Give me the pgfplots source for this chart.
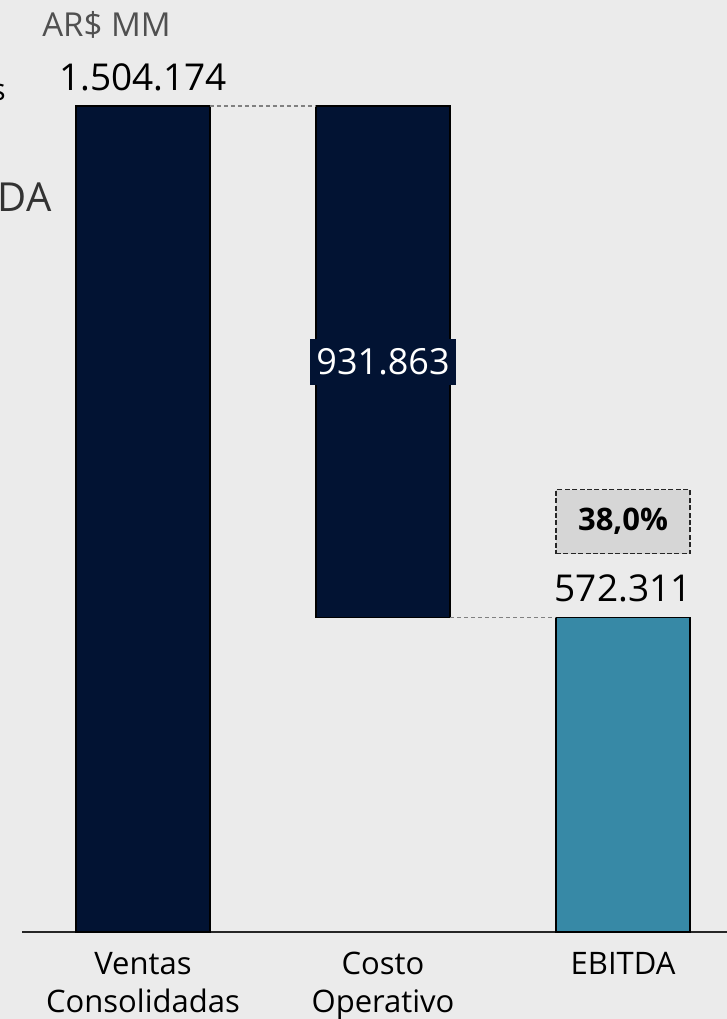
\documentclass[border=0pt]{standalone}
\usepackage{fontspec}
\setmainfont{Open Sans}
\usepackage{pgfplots}
\pgfplotsset{compat=1.18}
\definecolor{bg}{HTML}{EBEBEB}
\definecolor{navy}{HTML}{021333}
\definecolor{tealbar}{HTML}{3789A6}
\definecolor{boxgrey}{HTML}{D6D6D6}
\definecolor{unitgrey}{HTML}{505050}

\begin{document}
\begin{tikzpicture}
\useasboundingbox (0,0) rectangle (363.5pt,509.5pt);
\fill[bg] (0,0) rectangle (363.5pt,509.5pt);

% cut-off text at the left edge (as in the reference)
\node[anchor=east, inner sep=0, font=\fontsize{15}{15}\selectfont] at (3pt,464.5pt) {Ventas};
\node[anchor=east, inner sep=0, font=\fontsize{20}{20}\selectfont, text=black!80] at (26pt,411pt) {EBITDA};
\node[inner sep=0, font=\fontsize{16.5}{16.5}\selectfont, text=unitgrey] at (53.25pt,497pt) {AR\$ MM};

\begin{axis}[
    at={(11pt,43.5pt)}, anchor=south west,
    scale only axis,
    width=352.5pt, height=466pt,
    xmin=-0.504, xmax=2.433,
    ymin=0, ymax=1697200,
    axis x line*=bottom,
    hide y axis,
    x axis line style={draw=black!85, line width=1pt, -},
    xtick={0,1,2},
    xticklabels={{Ventas\\Consolidadas},{Costo\\Operativo},{EBITDA}},
    xticklabel style={align=center, font=\fontsize{15.5}{19}\selectfont, inner sep=0pt, yshift=-10pt},
    major tick length=0,
    clip=false,
]
% Ventas Consolidadas
\addplot[ybar, bar width=67pt, bar shift=0pt, fill=navy, draw=black, line width=0.6pt]
    coordinates {(0,1504174)};
% Costo Operativo (floating, from EBITDA up to Ventas)
\addplot[fill=navy, draw=black, line width=0.6pt]
    coordinates {(0.720833,572311) (1.279167,572311) (1.279167,1504174) (0.720833,1504174)} -- cycle;
% EBITDA
\addplot[ybar, bar width=67pt, bar shift=0pt, fill=tealbar, draw=black, line width=0.6pt]
    coordinates {(2,572311)};
% connectors
\addplot[gray, dash pattern=on 2pt off 1.5pt, line width=0.6pt]
    coordinates {(0.279167,1504174) (0.720833,1504174)};
\addplot[gray, dash pattern=on 2pt off 1.5pt, line width=0.6pt]
    coordinates {(1.279167,572311) (1.720833,572311)};

% value labels
\node[anchor=base, inner sep=0, font=\fontsize{18.5}{18.5}\selectfont, yshift=7.5pt] at (axis cs:0,1504174) {1.504.174};
\node[fill=navy, text=white, inner xsep=3pt, minimum height=23pt, font=\fontsize{18}{18}\selectfont] at (axis cs:1,1038242) {931.863};
\node[anchor=base, inner sep=0, font=\fontsize{18.5}{18.5}\selectfont, yshift=8pt] at (axis cs:2,572311) {572.311};
\node[draw=black!85, line width=0.7pt, dash pattern=on 2.5pt off 1.2pt, fill=boxgrey, minimum width=67pt, minimum height=32pt, font=\fontsize{15.5}{15.5}\selectfont\bfseries, yshift=48pt] at (axis cs:2,572311) {38,0\%};
\end{axis}
\end{tikzpicture}
\end{document}
